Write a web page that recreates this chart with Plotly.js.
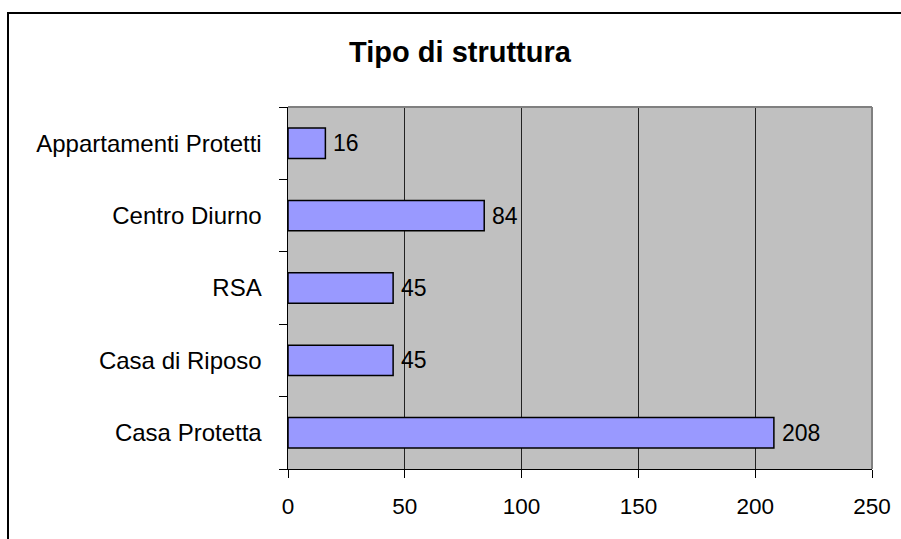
<!DOCTYPE html>
<html>
<head>
<meta charset="utf-8">
<script src="https://cdn.plot.ly/plotly-3.0.1.min.js"></script>
<style>
  html, body { margin: 0; padding: 0; background: #fff; overflow: hidden; }
  #wrap { position: relative; width: 901px; height: 539px; }
  #chart { position: absolute; left: 0; top: 0; width: 901px; height: 539px; }
  #frame { position: absolute; left: 7px; top: 12px; width: 920px; height: 560px;
           border: 2px solid #000; pointer-events: none; box-sizing: border-box; }
</style>
</head>
<body>
<div id="wrap">
  <div id="chart"></div>
  <div id="frame"></div>
</div>
<script>
const categories = ["Casa Protetta", "Casa di Riposo", "RSA", "Centro Diurno", "Appartamenti Protetti"];
const values = [208, 45, 45, 84, 16];
const xTicks = [0, 50, 100, 150, 200, 250];
const chartTitle = "Tipo di struttura";

const FONT = "Liberation Sans, Arial, sans-serif";

const trace = {
  type: "bar",
  orientation: "h",
  y: categories,
  x: values,
  marker: { color: "#9999FF", line: { color: "#000000", width: 1.5 } },
  hoverinfo: "none",
  showlegend: false
};

const annotations = categories.map((c, i) => ({
  x: values[i], y: c, xref: "x", yref: "y",
  text: String(values[i]), showarrow: false,
  xanchor: "left", yanchor: "middle", xshift: 6,
  font: { family: FONT, size: 23, color: "#000" }
}));

const layout = {
  width: 901, height: 539,
  margin: { l: 288, r: 29, t: 107, b: 70, pad: 0 },
  paper_bgcolor: "#ffffff",
  plot_bgcolor: "#C0C0C0",
  bargap: 0.58,
  title: {
    text: "<b>" + chartTitle + "</b>",
    font: { family: FONT, size: 29, color: "#000" },
    x: 460 / 901, xanchor: "center", xref: "container",
    y: 1 - 52 / 539, yanchor: "middle", yref: "container"
  },
  xaxis: {
    range: [0, 250],
    tickvals: xTicks,
    ticktext: xTicks.map(String),
    ticks: "outside", ticklen: 8, tickwidth: 1, tickcolor: "#000",
    showgrid: true, gridcolor: "#222", gridwidth: 1,
    showline: true, linecolor: "#000", linewidth: 1,
    zeroline: false,
    tickfont: { family: FONT, size: 22.5, color: "#000" },
    ticklabelstandoff: 9,
    fixedrange: true
  },
  yaxis: {
    type: "category",
    categoryorder: "array", categoryarray: categories,
    ticks: "outside", ticklen: 8, tickwidth: 1, tickcolor: "#000",
    tickson: "boundaries",
    showgrid: false,
    showline: true, linecolor: "#000", linewidth: 1.5,
    zeroline: false,
    tickfont: { family: FONT, size: 24, color: "#000" },
    ticklabelstandoff: 20,
    fixedrange: true
  },
  shapes: [
    { type: "line", xref: "paper", yref: "paper", x0: 0, x1: 1, y0: 1, y1: 1,
      line: { color: "#808080", width: 2 }, layer: "above" },
    { type: "line", xref: "paper", yref: "paper", x0: 1, x1: 1, y0: 0, y1: 1,
      line: { color: "#808080", width: 2 }, layer: "above" }
  ],
  annotations: annotations
};

Plotly.newPlot("chart", [trace], layout, { displayModeBar: false, staticPlot: true });
</script>
</body>
</html>
